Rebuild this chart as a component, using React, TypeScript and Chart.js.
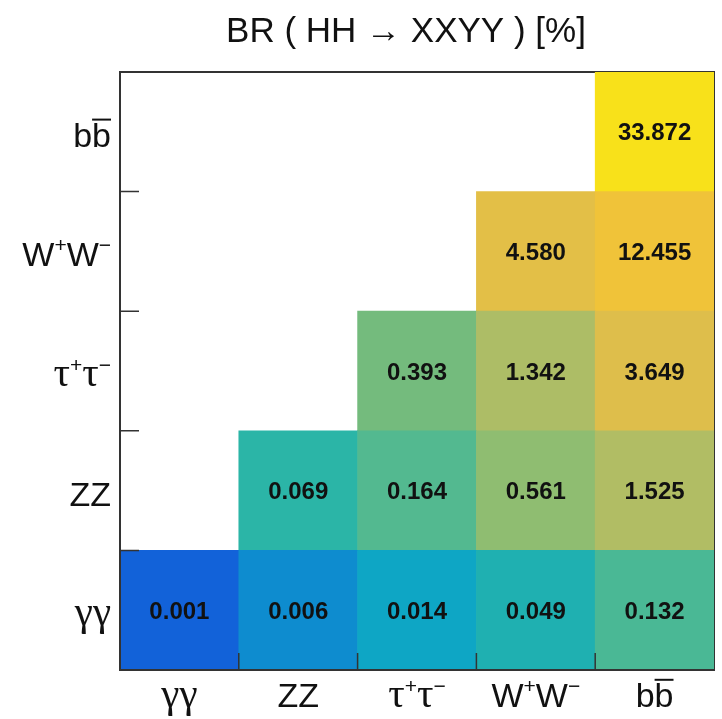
import React, { useEffect, useRef } from 'react';
import { Chart, registerables } from 'chart.js';

Chart.register(...registerables);

// ---- data -----------------------------------------------------------
// Decay channels (ROOT-like markup: ^{..} superscript, #bar{..} overline)
const channelLabels = ['γγ', 'ZZ', 'τ^{+}τ^{−}', 'W^{+}W^{−}', 'b#bar{b}'];

// BR(HH -> XXYY) [%], one array per Y channel (row, bottom to top), indexed by X channel
const brRowGammaGamma = [0.001, 0.006, 0.014, 0.049, 0.132];
const brRowZZ = [null, 0.069, 0.164, 0.561, 1.525];
const brRowTauTau = [null, null, 0.393, 1.342, 3.649];
const brRowWW = [null, null, null, 4.58, 12.455];
const brRowBB = [null, null, null, null, 33.872];

const chartTitle = 'BR ( HH → XXYY ) [%]';

// ---- colour map (log scale) ----------------------------------------
const paletteStops: [number, string][] = [
  [0.0, '#1262d9'],
  [0.17, '#0e8bcf'],
  [0.25, '#0ea6c6'],
  [0.37, '#1eb0b2'],
  [0.41, '#2db6a6'],
  [0.48, '#50b992'],
  [0.57, '#72bb7e'],
  [0.61, '#92bd70'],
  [0.7, '#b0bd65'],
  [0.79, '#e0be4a'],
  [0.9, '#f0c23a'],
  [1.0, '#f8e11a'],
];

function hexToRgb(h: string) {
  const n = parseInt(h.slice(1), 16);
  return [(n >> 16) & 255, (n >> 8) & 255, n & 255];
}

function paletteColor(t: number) {
  t = Math.max(0, Math.min(1, t));
  for (let i = 1; i < paletteStops.length; i++) {
    const [t1, c1] = paletteStops[i];
    const [t0, c0] = paletteStops[i - 1];
    if (t <= t1) {
      const f = (t - t0) / (t1 - t0 || 1);
      const a = hexToRgb(c0);
      const b = hexToRgb(c1);
      const m = a.map((v, k) => Math.round(v + (b[k] - v) * f));
      return `rgb(${m[0]},${m[1]},${m[2]})`;
    }
  }
  return paletteStops[paletteStops.length - 1][1];
}

const FONT_SANS = '"Liberation Sans", Arial, Helvetica, sans-serif';
const FONT_SERIF = '"Liberation Serif", "Times New Roman", serif';

// ---- rich text (superscripts, overline, greek in serif) -------------
type Seg = { ch: string; sup: boolean; bar: boolean };

function parseLabel(s: string): Seg[] {
  const out: Seg[] = [];
  let i = 0;
  while (i < s.length) {
    if (s.startsWith('^{', i)) {
      const e = s.indexOf('}', i);
      for (const ch of s.slice(i + 2, e)) out.push({ ch, sup: true, bar: false });
      i = e + 1;
    } else if (s.startsWith('#bar{', i)) {
      const e = s.indexOf('}', i);
      for (const ch of s.slice(i + 5, e)) out.push({ ch, sup: false, bar: true });
      i = e + 1;
    } else {
      out.push({ ch: s[i], sup: false, bar: false });
      i++;
    }
  }
  return out;
}

function isGreek(ch: string) {
  const code = ch.codePointAt(0) || 0;
  return code >= 0x370 && code <= 0x3ff;
}

function segFont(seg: Seg, size: number) {
  const greek = isGreek(seg.ch);
  let sz = seg.sup ? Math.round(size * 0.62) : size;
  if (greek) sz = Math.round(sz * 1.22);
  return `${sz}px ${greek ? FONT_SERIF : FONT_SANS}`;
}

function drawRich(
  ctx: CanvasRenderingContext2D,
  s: string,
  x: number,
  y: number,
  size: number,
  align: 'left' | 'center' | 'right'
) {
  const segs = parseLabel(s);
  const widths = segs.map((sg) => {
    ctx.font = segFont(sg, size);
    return ctx.measureText(sg.ch).width;
  });
  const total = widths.reduce((a, b) => a + b, 0);
  let cx = align === 'left' ? x : align === 'center' ? x - total / 2 : x - total;
  ctx.textAlign = 'left';
  ctx.textBaseline = 'alphabetic';
  segs.forEach((sg, i) => {
    ctx.font = segFont(sg, size);
    const yy = sg.sup ? y - size * 0.42 : y;
    ctx.fillText(sg.ch, cx, yy);
    if (sg.bar) {
      ctx.save();
      ctx.lineWidth = 2;
      ctx.strokeStyle = ctx.fillStyle as string;
      ctx.beginPath();
      const by = y - size * 0.8;
      ctx.moveTo(cx, by);
      ctx.lineTo(cx + widths[i], by);
      ctx.stroke();
      ctx.restore();
    }
    cx += widths[i];
  });
}

// ---- plugins ----------------------------------------------------------
const frameAndLabels = {
  id: 'frameAndLabels',
  beforeDatasetsDraw(chart: any) {
    const { ctx, chartArea: a } = chart;
    ctx.save();
    ctx.strokeStyle = '#333';
    ctx.lineWidth = 2;
    ctx.strokeRect(a.left, a.top, a.right - a.left, a.bottom - a.top);
    ctx.restore();
  },
  afterDatasetsDraw(chart: any) {
    const { ctx, chartArea: a, scales } = chart;
    const xs = scales.x;
    const ys = scales.y;
    ctx.save();

    // cell values
    ctx.fillStyle = '#111';
    ctx.font = `bold 24px ${FONT_SANS}`;
    ctx.textAlign = 'center';
    ctx.textBaseline = 'alphabetic';
    chart.data.datasets.forEach((ds: any, di: number) => {
      const meta = chart.getDatasetMeta(di);
      meta.data.forEach((el: any, i: number) => {
        const v = ds.brValues[i];
        if (v == null) return;
        const p = el.getProps(['x', 'y', 'base'], true);
        const cy = (p.y + p.base) / 2;
        ctx.fillText(v.toFixed(3), p.x, cy + 8.5);
      });
    });

    // axis lines (left, bottom)
    ctx.strokeStyle = '#333';
    ctx.lineWidth = 2;
    ctx.beginPath();
    ctx.moveTo(a.left, a.top);
    ctx.lineTo(a.left, a.bottom);
    ctx.lineTo(a.right, a.bottom);
    ctx.stroke();

    // ticks at cell boundaries
    ctx.lineWidth = 1.5;
    ctx.beginPath();
    for (let k = 1; k < channelLabels.length; k++) {
      const yb = ys.getPixelForValue(k);
      ctx.moveTo(a.left, yb);
      ctx.lineTo(a.left + 19, yb);
      const xb = (xs.getPixelForValue(k - 1) + xs.getPixelForValue(k)) / 2;
      ctx.moveTo(xb, a.bottom);
      ctx.lineTo(xb, a.bottom - 17);
    }
    ctx.stroke();

    // axis labels
    ctx.fillStyle = '#111';
    channelLabels.forEach((lab, i) => {
      const xc = xs.getPixelForValue(i);
      drawRich(ctx, lab, xc, a.bottom + 37, 34, 'center');
      const yc = ys.getPixelForValue(i + 0.5);
      drawRich(ctx, lab, a.left - 9, yc + 15, 34, 'right');
    });

    // title
    ctx.fillStyle = '#111';
    ctx.font = `35px ${FONT_SANS}`;
    ctx.textAlign = 'center';
    ctx.textBaseline = 'alphabetic';
    ctx.fillText(chartTitle, (a.left + a.right) / 2 - 11, 42);

    ctx.restore();
  },
};

// ---- component --------------------------------------------------------
export default function App() {
  const ref = useRef<HTMLCanvasElement | null>(null);

  useEffect(() => {
    if (!ref.current) return;
    const rows = [brRowGammaGamma, brRowZZ, brRowTauTau, brRowWW, brRowBB];
    const all = rows.flat().filter((v) => v != null) as number[];
    const lmin = Math.log10(Math.min(...all));
    const lmax = Math.log10(Math.max(...all));
    const colorFor = (v: number) => paletteColor((Math.log10(v) - lmin) / (lmax - lmin));

    const datasets = rows.map((vals, r) => ({
      label: channelLabels[r],
      data: vals.map((v) => (v == null ? null : [r, r + 1])),
      brValues: vals,
      backgroundColor: vals.map((v) => (v == null ? 'rgba(0,0,0,0)' : colorFor(v as number))),
      borderWidth: 0,
      grouped: false,
      barPercentage: 1,
      categoryPercentage: 1,
    }));

    const chart = new Chart(ref.current, {
      type: 'bar',
      data: { labels: channelLabels, datasets: datasets as any },
      options: {
        responsive: false,
        animation: false,
        events: [],
        layout: { padding: { left: 120, right: 8, top: 72, bottom: 49 } },
        plugins: {
          legend: { display: false },
          title: { display: false },
          tooltip: { enabled: false },
        },
        scales: {
          x: { type: 'category', display: false, offset: true, grid: { display: false } },
          y: { type: 'linear', display: false, min: 0, max: 5, grid: { display: false } },
        },
      },
      plugins: [frameAndLabels],
    });
    return () => chart.destroy();
  }, []);

  return (
    <div style={{ position: 'absolute', left: 0, top: 0, width: 722, height: 719, background: '#fff' }}>
      <canvas ref={ref} width={722} height={719} style={{ width: 722, height: 719, display: 'block' }} />
    </div>
  );
}
